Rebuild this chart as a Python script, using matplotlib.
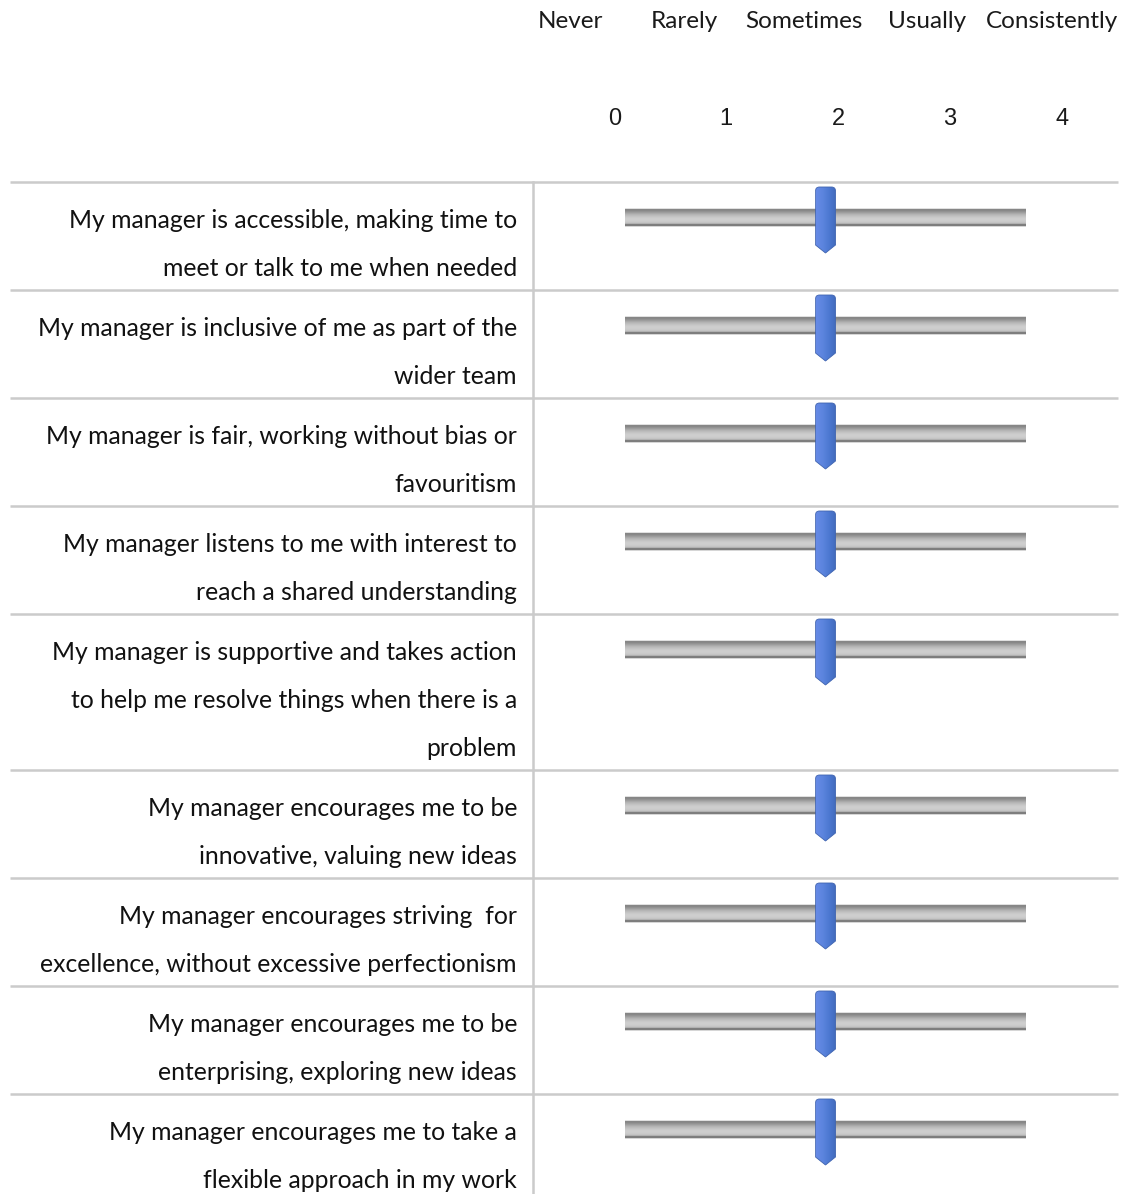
"""Survey slider chart: manager behaviour ratings on a 0-4 scale."""

import matplotlib

matplotlib.use("Agg")
import matplotlib.pyplot as plt
import numpy as np
from matplotlib.path import Path as MPath
from matplotlib.patches import PathPatch

# Data
scale_words = ["Never", "Rarely", "Sometimes", "Usually", "Consistently"]
scale_values = [0, 1, 2, 3, 4]
statements = [
    ["My manager is accessible, making time to", "meet or talk to me when needed"],
    ["My manager is inclusive of me as part of the", "wider team"],
    ["My manager is fair, working without bias or", "favouritism"],
    ["My manager listens to me with interest to", "reach a shared understanding"],
    ["My manager is supportive and takes action", "to help me resolve things when there is a", "problem"],
    ["My manager encourages me to be", "innovative, valuing new ideas"],
    ["My manager encourages striving  for", "excellence, without excessive perfectionism"],
    ["My manager encourages me to be", "enterprising, exploring new ideas"],
    ["My manager encourages me to take a", "flexible approach in my work"],
]
ratings = [2, 2, 2, 2, 2, 2, 2, 2, 2]

W, H = 1128, 1194
BODY_FONT = ["Lato", "DejaVu Sans"]
GRID = "#cbcbcb"

fig = plt.figure(figsize=(W / 100, H / 100), dpi=100)
ax = fig.add_axes([0, 0, 1, 1])
ax.set_xlim(0, W)
ax.set_ylim(H, 0)
ax.axis("off")

# Header
word_x = [570, 684, 804, 927, 1052]
num_x = [615, 726, 838, 950, 1062]
for word, x in zip(scale_words, word_x):
    ax.text(x, 22, word, ha="center", va="center", fontsize=17.5, family=BODY_FONT, color="#1a1a1a")
for val, x in zip(scale_values, num_x):
    ax.text(x, 119, str(val), ha="center", va="center", fontsize=17, family="Liberation Sans", color="#1a1a1a")

# Slider axes: track spans 0..4 between x=625 and x=1026
track_x0, track_x1 = 625, 1026
sax = fig.add_axes([track_x0 / W, 0, (track_x1 - track_x0) / W, 1])
sax.set_xlim(0, 4)
sax.set_ylim(H, 0)
sax.axis("off")
unit_per_px = 4 / (track_x1 - track_x0)

track_grays = [0.88, 0.50, 0.54, 0.58, 0.63, 0.68, 0.72, 0.75, 0.78, 0.80, 0.81, 0.81,
               0.80, 0.78, 0.74, 0.50, 0.46, 0.84]
track_img = np.array(track_grays)[:, None, None] * np.ones((1, 2, 3))

hx = np.linspace(0, 1, 20)
handle_cols = np.array([
    [0.40, 0.54, 0.90], [0.36, 0.52, 0.87], [0.30, 0.47, 0.82], [0.26, 0.42, 0.74]
])
handle_img = np.zeros((1, 20, 3))
for c in range(3):
    handle_img[0, :, c] = np.interp(hx, np.linspace(0, 1, 4), handle_cols[:, c])

row_top = 182
ax.plot([10, 1118], [row_top, row_top], color=GRID, lw=1.8, solid_capstyle="butt")
for lines, value in zip(statements, ratings):
    height = 12 + 48 * len(lines)
    for i, line in enumerate(lines):
        ax.text(517, row_top + 39 + 48 * i, line, ha="right", va="center",
                fontsize=17.8, family=BODY_FONT, color="#111111")

    # track
    sax.imshow(track_img, extent=(0, 4, row_top + 45, row_top + 26), aspect="auto",
               interpolation="bilinear", zorder=2)

    # handle
    hw = 10 * unit_per_px
    r = 4 * unit_per_px
    top, side_end, tip = row_top + 5, row_top + 63, row_top + 71
    verts = [
        (value - hw, top + 4), (value - hw, top), (value - hw + r, top),
        (value + hw - r, top), (value + hw, top), (value + hw, top + 4),
        (value + hw, side_end), (value, tip), (value - hw, side_end), (value - hw, top + 4),
    ]
    codes = [MPath.MOVETO, MPath.CURVE3, MPath.CURVE3, MPath.LINETO, MPath.CURVE3, MPath.CURVE3,
             MPath.LINETO, MPath.LINETO, MPath.LINETO, MPath.CLOSEPOLY]
    patch = PathPatch(MPath(verts, codes), facecolor="none", edgecolor="#4064b0", lw=0.6, zorder=4)
    sax.add_patch(patch)
    im = sax.imshow(handle_img, extent=(value - hw, value + hw, tip, top), aspect="auto",
                    interpolation="bilinear", zorder=3)
    im.set_clip_path(patch)

    row_top += height
    ax.plot([10, 1118], [row_top, row_top], color=GRID, lw=1.8, solid_capstyle="butt")

ax.plot([533, 533], [182, H], color=GRID, lw=1.8)

fig.savefig("out.png", dpi=100)
